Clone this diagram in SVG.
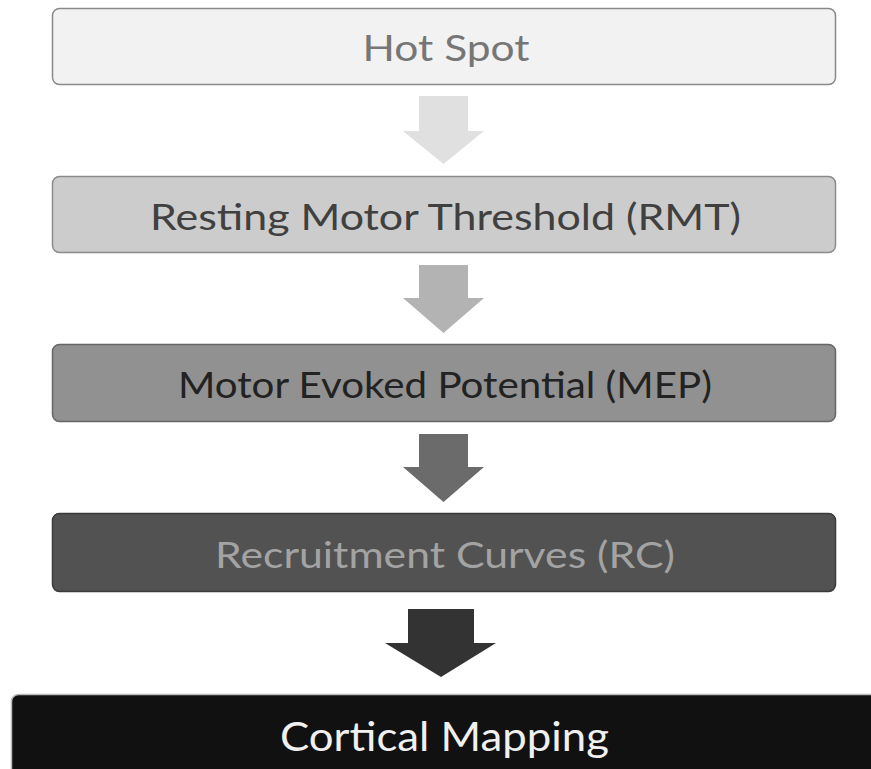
<svg xmlns="http://www.w3.org/2000/svg" width="871" height="769" viewBox="0 0 871 769">
<style>
.box{stroke-width:1.5}
.lbl{font-family:Lato,"Noto Sans","Liberation Sans",sans-serif;font-size:37px;text-anchor:middle}
</style>
<rect width="871" height="769" fill="#ffffff"/>
<g id="hot-spot">
<rect class="box" x="52.5" y="8.5" width="783" height="76" rx="7" fill="#f2f2f2" stroke="#8a8a8a"/>
<text class="lbl" x="446" y="61" fill="#767676" textLength="167" lengthAdjust="spacingAndGlyphs">Hot Spot</text>
</g>
<g id="rmt">
<rect class="box" x="52.5" y="176.5" width="783" height="76" rx="7" fill="#cccccc" stroke="#8a8a8a"/>
<text class="lbl" x="445.5" y="230" fill="#404040" textLength="591" lengthAdjust="spacingAndGlyphs">Resting Motor Threshold (RMT)</text>
</g>
<g id="mep">
<rect class="box" x="52.5" y="344.5" width="783" height="77" rx="7" fill="#919191" stroke="#666666"/>
<text class="lbl" x="445" y="398" fill="#222222" textLength="534" lengthAdjust="spacingAndGlyphs">Motor Evoked Potential (MEP)</text>
</g>
<g id="rc">
<rect class="box" x="52.5" y="513.5" width="783" height="78" rx="7" fill="#525252" stroke="#3a3a3a"/>
<text class="lbl" x="445" y="568" fill="#a3a3a3" textLength="460" lengthAdjust="spacingAndGlyphs">Recruitment Curves (RC)</text>
</g>
<g id="cortical-mapping">
<rect class="box" x="11.5" y="694.5" width="880" height="90" rx="7" fill="#111111" stroke="#bbbbbb"/>
<text class="lbl" x="444.5" y="751" fill="#f0f0f0" style="font-size:41px" textLength="329" lengthAdjust="spacingAndGlyphs">Cortical Mapping</text>
</g>
<g id="connectors">
<polygon points="419,96 468,96 468,131 484,131 443.5,164 403,131 419,131" fill="#e0e0e0"/>
<polygon points="419,265 468,265 468,298 484,298 443.5,333 403,298 419,298" fill="#b3b3b3"/>
<polygon points="419,434 468,434 468,467 484,467 443.5,502 403,467 419,467" fill="#6b6b6b"/>
<polygon points="408,609 474,609 474,643 496,643 441,677 385,643 408,643" fill="#333333"/>
</g>
</svg>
